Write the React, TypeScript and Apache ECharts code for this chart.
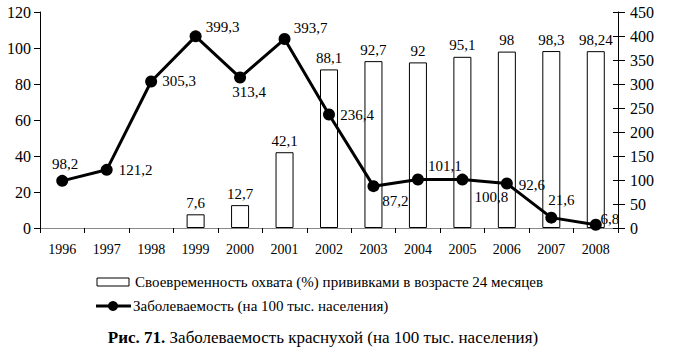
import React, { useEffect, useRef } from "react";
import * as echarts from "echarts";

const years = ["1996", "1997", "1998", "1999", "2000", "2001", "2002", "2003", "2004", "2005", "2006", "2007", "2008"];
const coverage = [null, null, null, 7.6, 12.7, 42.1, 88.1, 92.7, 92, 95.1, 98, 98.3, 98.24];
const incidence = [98.2, 121.2, 305.3, 399.3, 313.4, 393.7, 236.4, 87.2, 101.1, 100.8, 92.6, 21.6, 6.8];
const coverageName = "Своевременность охвата (%) прививками в возрасте 24 месяцев";
const incidenceName = "Заболеваемость (на 100 тыс. населения)";
const titleBold = "Рис. 71.";
const titleRest = " Заболеваемость краснухой (на 100 тыс. населения)";

// label placement (centre of label relative to point), layout only
const lineLabelOffsets = [[3, -17], [29, 0], [28, 0], [27, -9], [9, 14], [26, -11], [28, 0], [22, 15], [27, -13], [29, 17], [25, 1], [10, -18], [14, -6]];

const FONT = "Liberation Serif";
const fmt = (v: any) => String(v).replace(".", ",");

function buildOption() {
  return {
    animation: false,
    backgroundColor: "#fff",
    grid: { left: 40, right: 81, top: 12, bottom: 127 },
    xAxis: [
      {
        type: "category",
        data: years,
        boundaryGap: true,
        axisLine: { lineStyle: { color: "#000", width: 1 } },
        axisTick: { show: true, inside: false, length: 5, lineStyle: { color: "#000" } },
        axisLabel: { color: "#000", fontFamily: FONT, fontSize: 14, margin: 14 },
        splitLine: { show: false },
      },
      {
        type: "category",
        data: years,
        position: "top",
        axisLine: { lineStyle: { color: "#888", width: 1 } },
        axisTick: { show: false },
        axisLabel: { show: false },
      },
    ],
    yAxis: [
      {
        type: "value",
        min: 0,
        max: 120,
        interval: 20,
        position: "left",
        axisLine: { show: true, lineStyle: { color: "#000" } },
        axisTick: { show: true, length: 6, lineStyle: { color: "#000" } },
        axisLabel: { color: "#000", fontFamily: FONT, fontSize: 16, margin: 9 },
        splitLine: { show: false },
      },
      {
        type: "value",
        min: 0,
        max: 450,
        interval: 50,
        position: "right",
        axisLine: { show: true, lineStyle: { color: "#000" } },
        axisTick: { show: true, length: 7, lineStyle: { color: "#000" } },
        axisLabel: { color: "#000", fontFamily: FONT, fontSize: 16, margin: 12 },
        splitLine: { show: false },
      },
      {
        type: "value",
        min: 0,
        max: 450,
        interval: 50,
        position: "right",
        axisLine: { show: false },
        axisTick: { show: true, inside: true, length: 5, lineStyle: { color: "#000" } },
        axisLabel: { show: false },
        splitLine: { show: false },
      },
    ],
    series: [
      {
        name: coverageName,
        type: "bar",
        yAxisIndex: 0,
        data: coverage,
        barWidth: 18,
        itemStyle: { color: "#fff", borderColor: "#000", borderWidth: 1 },
        label: {
          show: true,
          position: "top",
          distance: 4,
          color: "#000",
          fontFamily: FONT,
          fontSize: 15,
          formatter: (p: any) => fmt(p.value),
        },
        z: 2,
      },
      {
        name: incidenceName,
        type: "line",
        yAxisIndex: 1,
        data: incidence.map((v, i) => ({
          value: v,
          label: { offset: lineLabelOffsets[i] },
        })),
        symbol: "circle",
        symbolSize: 12,
        lineStyle: { color: "#000", width: 3 },
        itemStyle: { color: "#000" },
        label: {
          show: true,
          position: "inside",
          color: "#000",
          fontFamily: FONT,
          fontSize: 15,
          formatter: (p: any) => fmt(p.value),
        },
        z: 3,
      },
    ],
    graphic: [
      { type: "rect", shape: { x: 97, y: 278, width: 32, height: 8 }, style: { fill: "#fff", stroke: "#000", lineWidth: 1 } },
      { type: "text", x: 135, y: 282, style: { text: coverageName, fontFamily: FONT, fontSize: 15, fill: "#000", verticalAlign: "middle" } },
      { type: "line", shape: { x1: 96, y1: 306, x2: 131, y2: 306 }, style: { stroke: "#000", lineWidth: 3 } },
      { type: "circle", shape: { cx: 113, cy: 306, r: 5 }, style: { fill: "#000" } },
      { type: "text", x: 133, y: 306, style: { text: incidenceName, fontFamily: FONT, fontSize: 15, fill: "#000", verticalAlign: "middle" } },
      {
        type: "text",
        x: 323,
        y: 337,
        style: {
          text: "{b|" + titleBold + "}{n|" + titleRest + "}",
          align: "center",
          verticalAlign: "middle",
          rich: {
            b: { fontFamily: FONT, fontSize: 17, fontWeight: "bold", fill: "#000" },
            n: { fontFamily: FONT, fontSize: 17, fill: "#000" },
          },
        },
      },
    ],
  };
}

export default function App() {
  const ref = useRef<HTMLDivElement>(null);
  useEffect(() => {
    const chart = echarts.init(ref.current!, null, { renderer: "svg" });
    chart.setOption(buildOption() as any);
    return () => {
      chart.dispose();
    };
  }, []);
  return (
    <div style={{ position: "absolute", left: 0, top: 0, width: 699, height: 355 }}>
      <style>{`#root svg text, #root svg tspan { font-family: "Liberation Serif", "Times New Roman", serif !important; }`}</style>
      <div ref={ref} style={{ width: 699, height: 355, background: "#fff" }} />
    </div>
  );
}
